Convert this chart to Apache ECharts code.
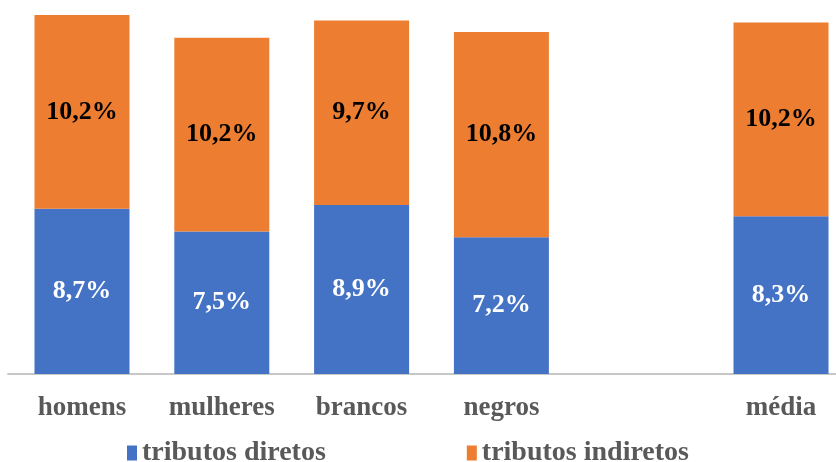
<!DOCTYPE html>
<html><head><meta charset="utf-8">
<script src="https://cdn.jsdelivr.net/npm/echarts@6/dist/echarts.min.js"></script>
<style>html,body{margin:0;padding:0;background:#fff}#c{width:836px;height:462px}</style>
</head><body><div id="c"></div>
<script>
const categories = ['homens', 'mulheres', 'brancos', 'negros', '', 'média'];
const diretos = [8.7, 7.5, 8.9, 7.2, null, 8.3];
const indiretos = [10.2, 10.2, 9.7, 10.8, null, 10.2];
const seriesNames = ['tributos diretos', 'tributos indiretos'];

const FONT = '"Liberation Serif", "Times New Roman", serif';
const fmt = p => p.value == null ? '' : String(p.value.toFixed(1)).replace('.', ',') + '%';

const chart = echarts.init(document.getElementById('c'));
chart.setOption({
  animation: false,
  grid: [
    { left: 82, width: 699, top: 13, height: 361 },
    { left: 8, right: 0, top: 13, height: 361 }
  ],
  legend: {
    data: seriesNames,
    left: 122, top: 434,
    icon: 'rect', itemWidth: 10, itemHeight: 15, itemGap: 141,
    textStyle: { fontFamily: FONT, fontWeight: 'bold', fontSize: 28, color: '#595959' }
  },
  xAxis: [
    {
      type: 'category', data: categories, gridIndex: 0, boundaryGap: false,
      axisTick: { show: false },
      axisLine: { show: false },
      axisLabel: { interval: 0, margin: 21, fontFamily: FONT, fontWeight: 'bold', fontSize: 27, color: '#595959' }
    },
    {
      type: 'category', data: categories, gridIndex: 1,
      axisTick: { show: false },
      axisLabel: { show: false },
      axisLine: { lineStyle: { color: '#c8c8c8', width: 2 } }
    }
  ],
  yAxis: [
    { type: 'value', min: 0, max: 19, show: false, gridIndex: 0, splitLine: { show: false } },
    { type: 'value', min: 0, max: 19, show: false, gridIndex: 1, splitLine: { show: false } }
  ],
  series: [
    {
      name: seriesNames[0], type: 'bar', stack: 't', data: diretos, barWidth: 95,
      itemStyle: { color: '#4472C4' },
      label: { show: true, position: 'inside', formatter: fmt, fontFamily: FONT, fontWeight: 'bold', fontSize: 26, color: '#ffffff' }
    },
    {
      name: seriesNames[1], type: 'bar', stack: 't', data: indiretos, barWidth: 95,
      itemStyle: { color: '#ED7D31' },
      label: { show: true, position: 'inside', formatter: fmt, fontFamily: FONT, fontWeight: 'bold', fontSize: 26, color: '#000000' }
    }
  ]
});
</script></body></html>
